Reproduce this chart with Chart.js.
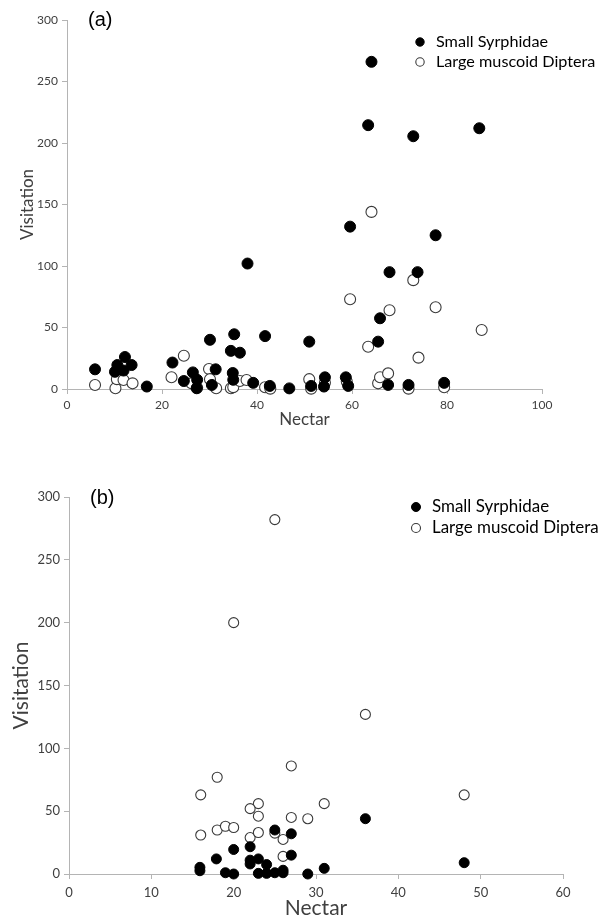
<!DOCTYPE html>
<html><head><meta charset="utf-8">
<script src="https://cdn.jsdelivr.net/npm/chart.js@4.4.0/dist/chart.umd.min.js"></script>
<style>
html,body{margin:0;padding:0;background:#fff;width:601px;height:921px;overflow:hidden}
#wa{position:absolute;left:0;top:0;width:601px;height:460px}
#wb{position:absolute;left:0;top:460px;width:601px;height:461px}
</style></head><body>
<div id="wa"><canvas id="ca" width="601" height="460"></canvas></div>
<div id="wb"><canvas id="cb" width="601" height="461"></canvas></div>
<script>
// ---- data ----
const seriesNames = ['Small Syrphidae', 'Large muscoid Diptera'];
const panelLabels = ['(a)', '(b)'];
const xTitle = 'Nectar';
const yTitle = 'Visitation';

const aXTicks = [0, 20, 40, 60, 80, 100];
const aYTicks = [0, 50, 100, 150, 200, 250, 300];
const bXTicks = [0, 10, 20, 30, 40, 50, 60];
const bYTicks = [0, 50, 100, 150, 200, 250, 300];

// panel (a) Small Syrphidae
const aSyrNectar = [5.9,10.1,10.6,11.9,12.2,13.6,16.8,22.2,24.6,26.5,27.4,27.3,30.1,30.5,31.3,34.5,34.9,35.0,35.2,36.4,38.0,39.2,41.7,42.7,46.8,51.0,51.4,54.3,54.1,58.7,59.2,59.6,63.4,64.1,65.5,65.9,67.6,67.9,71.9,72.9,73.8,77.6,79.4,86.8];
const aSyrVisit  = [16,14,19.5,15,26,19.5,2,21.5,6.5,13.5,7.5,0.6,40,3.3,16,31,13,7.5,44.5,29.5,102,5,43,2.5,0.5,38.5,2.5,9.5,2,9.5,2.5,132,214.5,266,38.5,57.5,3.3,95,3.3,205.5,95,125,5,212];
// panel (a) Large muscoid Diptera
const aMusNectar = [5.9,10.2,10.5,11.9,13.8,22.0,24.6,26.2,27.4,29.9,30.1,31.4,34.5,35.0,36.4,37.8,41.7,42.8,51.0,51.4,54.3,58.9,59.6,63.4,64.1,65.5,65.9,67.6,67.9,71.9,72.9,74.0,77.6,79.4,87.3];
const aMusVisit  = [3.3,0.6,8,7.3,4.6,9.5,27,4.6,1,16.3,8,0.6,0.6,1.5,6.5,7.3,1.4,0.3,8,0.3,5,6,73,34.4,144,4.6,9.5,12.7,64,0.3,88.5,25.5,66.5,1.4,48];

// panel (b) Small Syrphidae
const bSyrNectar = [15.9,15.9,17.9,19.0,20.0,20.0,22.0,22.0,22.0,23.0,23.0,24.0,24.0,25.0,25.0,26.0,26.0,27.0,27.0,29.0,31.0,36.0,48.0];
const bSyrVisit  = [5.3,2.6,12,1,19.5,0,21.7,11,8,12,0.5,7.5,0.5,35,1,3,1,32,15,0,4.5,44,9];
// panel (b) Large muscoid Diptera
const bMusNectar = [25.0,20.0,36.0,27.0,18.0,16.0,31.0,23.0,22.0,23.0,27.0,29.0,16.0,18.0,19.0,20.0,22.0,23.0,25.0,26.0,26.0,48.0];
const bMusVisit  = [282,200,127,86,77,63,56,56,52,46,45,44,31,35,38,37,29,33,32.5,27.5,14,63];

// ---- helpers ----
const pts = (xs, ys) => xs.map((x, i) => ({x: x, y: ys[i]}));
const AXIS = '#b4b4b4';
const TXT = '#404040';

// legend text sizing: fit a chosen legend entry between a start and an end x
const mctx = document.createElement('canvas').getContext('2d');
function textW(txt, size) { mctx.font = size + 'px Lato'; return mctx.measureText(txt).width; }

const overlay = {
  id: 'overlay',
  afterDatasetsDraw(chart, args, o) {
    const ctx = chart.ctx;
    ctx.save();
    ctx.textAlign = 'left';
    ctx.textBaseline = 'middle';
    ctx.fillStyle = '#000';
    ctx.font = o.labelFont;
    ctx.fillText(o.label, o.labelX, o.labelY);
    const w10 = textW(chart.data.datasets[o.fitIndex].label, 10);
    const size = 10 * (o.textEnd - o.textStart) / w10;
    chart.data.datasets.forEach((ds, i) => {
      const y = o.legY + i * o.legGap;
      ctx.beginPath();
      ctx.arc(o.textStart - o.legDx, y, o.legR, 0, Math.PI * 2);
      ctx.fillStyle = ds.backgroundColor;
      ctx.fill();
      ctx.lineWidth = ds.borderWidth;
      ctx.strokeStyle = ds.borderColor;
      ctx.stroke();
      ctx.fillStyle = '#000';
      ctx.font = size.toFixed(2) + 'px Lato';
      ctx.fillText(ds.label, o.textStart, y);
    });
    ctx.restore();
  }
};

function makeChart(id, syr, mus, xTicks, yTicks, lay) {
  const xmin = xTicks[0], xmax = xTicks[xTicks.length - 1];
  const ymin = yTicks[0], ymax = yTicks[yTicks.length - 1];
  return new Chart(document.getElementById(id), {
    type: 'scatter',
    data: {
      datasets: [
        {label: seriesNames[0], data: syr, backgroundColor: '#000', borderColor: '#000', borderWidth: 1, pointRadius: lay.r, clip: false},
        {label: seriesNames[1], data: mus, backgroundColor: '#fff', borderColor: '#3a3a3a', borderWidth: 1.1, pointRadius: lay.r, clip: false}
      ]
    },
    options: {
      responsive: false,
      animation: false,
      devicePixelRatio: 1,
      layout: {padding: {left: 0, right: lay.padR, top: lay.padT, bottom: 0}},
      plugins: {
        legend: {display: false},
        tooltip: {enabled: false},
        overlay: lay.overlay
      },
      scales: {
        x: {
          type: 'linear', min: xmin, max: xmax,
          afterBuildTicks: s => { s.ticks = xTicks.map(v => ({value: v})); },
          afterFit: s => { s.height = lay.xH; },
          border: {display: true, color: AXIS, width: 1},
          grid: {display: true, drawOnChartArea: false, drawTicks: true, tickLength: 5, color: AXIS},
          ticks: {color: TXT, font: {family: 'Lato', size: lay.tickSize}, padding: lay.xTickPad, maxRotation: 0},
          title: {display: true, text: xTitle, color: TXT, font: {family: 'Lato', size: lay.titleSize}, padding: {top: 0, bottom: lay.xTitlePad}}
        },
        y: {
          type: 'linear', min: ymin, max: ymax,
          afterBuildTicks: s => { s.ticks = yTicks.map(v => ({value: v})); },
          afterFit: s => { s.width = lay.yW; },
          border: {display: true, color: AXIS, width: 1},
          grid: {display: true, drawOnChartArea: false, drawTicks: true, tickLength: 5, color: AXIS},
          ticks: {color: TXT, font: {family: 'Lato', size: lay.tickSize}, padding: 4},
          title: {display: true, text: yTitle, color: TXT, font: {family: 'Lato', size: lay.titleSize}, padding: {top: lay.yTitlePad, bottom: 0}}
        }
      }
    },
    plugins: [overlay]
  });
}

makeChart('ca', pts(aSyrNectar, aSyrVisit), pts(aMusNectar, aMusVisit), aXTicks, aYTicks, {
  r: 5.5, padR: 59, padT: 20, xH: 71, yW: 67, tickSize: 12, titleSize: 17, xTickPad: 4, xTitlePad: 30, yTitlePad: 17,
  overlay: {label: panelLabels[0], labelFont: '20px "Liberation Sans"', labelX: 88, labelY: 20,
            fitIndex: 0, textStart: 436, textEnd: 548, legY: 42, legGap: 20, legR: 4.2, legDx: 16}
});
makeChart('cb', pts(bSyrNectar, bSyrVisit), pts(bMusNectar, bMusVisit), bXTicks, bYTicks, {
  r: 5, padR: 38, padT: 37, xH: 47, yW: 69, tickSize: 13, titleSize: 21, xTickPad: 6, xTitlePad: 0, yTitlePad: 9,
  overlay: {label: panelLabels[1], labelFont: '20px "Liberation Sans"', labelX: 90, labelY: 38,
            fitIndex: 1, textStart: 432, textEnd: 599, legY: 47, legGap: 21, legR: 4.5, legDx: 16}
});
</script>
</body></html>
